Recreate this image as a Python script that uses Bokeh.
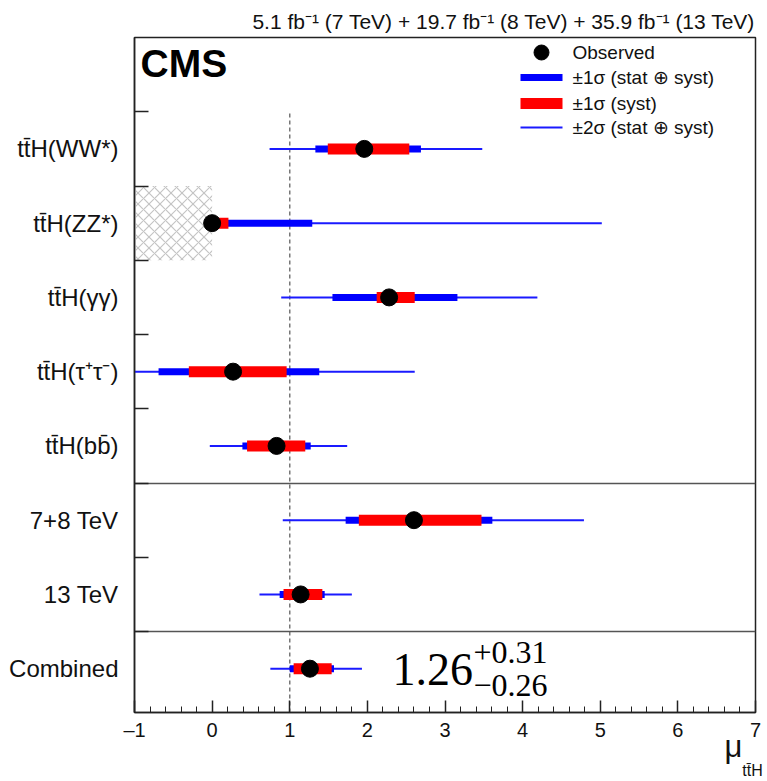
from bokeh.plotting import figure
from bokeh.models import (Range1d, FixedTicker, SingleIntervalTicker, Label,
                          ColumnDataSource, LinearAxis)
from bokeh.embed import file_html
from bokeh.resources import INLINE

# ---- data: signal strength per channel (top to bottom) ----
categories = ["tt\u0304H(WW*)", "tt\u0304H(ZZ*)", "tt\u0304H(\u03b3\u03b3)",
              "tt\u0304H(\u03c4\u207a\u03c4\u207b)", "tt\u0304H(bb\u0304)",
              "7+8 TeV", "13 TeV", "Combined"]
observed = [1.96, 0.00, 2.28, 0.27, 0.83, 2.60, 1.14, 1.26]
# +-1 sigma (stat + syst)
tot_lo = [1.33, 0.00, 1.55, -0.69, 0.39, 1.72, 0.87, 1.00]
tot_hi = [2.69, 1.29, 3.16, 1.38, 1.27, 3.61, 1.45, 1.57]
# +-1 sigma (syst only)
syst_lo = [1.49, 0.00, 2.12, -0.30, 0.45, 1.89, 0.92, 1.05]
syst_hi = [2.54, 0.21, 2.61, 0.96, 1.20, 3.47, 1.42, 1.54]
# +-2 sigma (stat + syst)
two_lo = [0.74, 0.00, 0.89, -1.50, -0.03, 0.91, 0.61, 0.75]
two_hi = [3.48, 5.02, 4.19, 2.61, 1.74, 4.79, 1.80, 1.93]

x_ticks = [-1, 0, 1, 2, 3, 4, 5, 6, 7]
separators = [1, 3]          # between groups
sm_value = 1.0               # Standard Model expectation
excluded = (-1.0, 0.0)       # unphysical region for ZZ*

n = len(categories)
rows = [n - 0.5 - i for i in range(n)]

# ---- geometry ----
W, H = 767, 781
BL, BR, BT, BB = 134, 12, 37, 69
X0, X1 = -1.0, 7.0
Y0, Y1 = -0.09, 9.0
FW, FH = W - BL - BR, H - BT - BB


def dx(px):
    return X0 + (px - BL) / FW * (X1 - X0)


def dy(py):
    return Y0 + (H - BB - py) / FH * (Y1 - Y0)


FONT = "Liberation Sans"
SERIF = "Liberation Serif"
INK = "#111111"

p = figure(width=W, height=H, output_backend="svg", toolbar_location=None,
           x_range=Range1d(X0, X1), y_range=Range1d(Y0, Y1),
           min_border_left=BL, min_border_right=BR, min_border_top=BT,
           min_border_bottom=BB)
p.grid.visible = False
p.outline_line_color = "#222222"
p.outline_line_width = 1.5

# luminosity / energy header
p.title.text = "5.1 fb\u207b\u00b9 (7 TeV) + 19.7 fb\u207b\u00b9 (8 TeV) + 35.9 fb\u207b\u00b9 (13 TeV)"
p.title.align = "right"
p.title.text_font = FONT
p.title.text_font_size = "21px"
p.title.text_font_style = "normal"
p.title.text_color = INK
p.title.standoff = 9

# x axis
xax = p.xaxis[0]
xax.ticker = SingleIntervalTicker(interval=1, num_minor_ticks=5)
xax.major_tick_in = 12
xax.major_tick_out = 0
xax.minor_tick_in = 6
xax.minor_tick_out = 0
xax.axis_line_width = 1.5
xax.axis_line_color = "#222222"
xax.major_tick_line_color = "#222222"
xax.minor_tick_line_color = "#222222"
xax.major_tick_line_width = 1.5
xax.major_label_text_font = FONT
xax.major_label_text_font_size = "20px"
xax.major_label_text_color = INK
xax.major_label_standoff = 6
xax.major_label_overrides = {t: ("\u20131" if t < 0 else str(t)) for t in x_ticks}


def title_axis(text, px, size, standoff):
    """Bare axis below the frame carrying one piece of the axis title."""
    pos = dx(px)
    ax = LinearAxis(ticker=FixedTicker(ticks=[pos]), axis_line_alpha=0,
                    major_tick_line_alpha=0, minor_tick_line_alpha=0,
                    major_tick_in=0, major_tick_out=0,
                    minor_tick_in=0, minor_tick_out=0,
                    major_label_overrides={pos: text},
                    major_label_text_font=FONT,
                    major_label_text_font_size=size,
                    major_label_text_color=INK,
                    major_label_standoff=standoff)
    p.add_layout(ax, "below")
    return ax


title_axis("\u03bc", 733, "31px", -15)
title_axis("tt\u0304H", 752, "16px", -5)

# y axis: category labels at row centres, tick marks at row edges
p.yaxis.ticker = FixedTicker(ticks=rows, minor_ticks=list(range(1, n + 1)))
p.yaxis.major_label_overrides = {r: c for r, c in zip(rows, categories)}
p.yaxis.major_tick_in = 0
p.yaxis.major_tick_out = 0
p.yaxis.minor_tick_in = 14
p.yaxis.minor_tick_out = 0
p.yaxis.minor_tick_line_width = 1.5
p.yaxis.minor_tick_line_color = "#222222"
p.yaxis.axis_line_width = 1.5
p.yaxis.axis_line_color = "#222222"
p.yaxis.major_label_text_font = FONT
p.yaxis.major_label_text_font_size = "24px"
p.yaxis.major_label_text_color = INK
p.yaxis.major_label_standoff = 16

# excluded region
p.quad(left=[excluded[0]], right=[excluded[1]], bottom=[rows[1] - 0.5], top=[rows[1] + 0.5],
       fill_alpha=0, line_alpha=0, hatch_pattern="x", hatch_color="#c4c4c4",
       hatch_scale=11, hatch_weight=1.2)

# SM line (up to the top channel) and group separators
p.segment(x0=[sm_value], x1=[sm_value], y0=[Y0], y1=[rows[0] + 0.5],
          line_color="#777777", line_dash="4 3", line_width=1.5)
p.hspan(y=separators, line_color="#555555", line_width=1.5)

src = ColumnDataSource(dict(y=rows, obs=observed, tlo=tot_lo, thi=tot_hi,
                            slo=syst_lo, shi=syst_hi, wlo=two_lo, whi=two_hi))

p.segment(x0="wlo", x1="whi", y0="y", y1="y", source=src, line_color="#1a1aff", line_width=2)
p.segment(x0="tlo", x1="thi", y0="y", y1="y", source=src, line_color="#0000ff", line_width=7)
p.segment(x0="slo", x1="shi", y0="y", y1="y", source=src, line_color="#ff0000", line_width=11)
p.scatter(x="obs", y="y", source=src, size=17, fill_color="black", line_color="black")

# ---- legend ----
lx0, lx1, ltx = dx(520), dx(562), dx(572)
ly = [dy(52), dy(77), dy(103), dy(127)]
p.scatter(x=[dx(541)], y=[ly[0]], size=15, fill_color="black", line_color="black")
p.segment(x0=[lx0], x1=[lx1], y0=[ly[1]], y1=[ly[1]], line_color="#0000ff", line_width=7)
p.segment(x0=[lx0], x1=[lx1], y0=[ly[2]], y1=[ly[2]], line_color="#ff0000", line_width=11)
p.segment(x0=[lx0], x1=[lx1], y0=[ly[3]], y1=[ly[3]], line_color="#1a1aff", line_width=2)
legend_texts = ["Observed", "\u00b11\u03c3 (stat \u2295 syst)", "\u00b11\u03c3 (syst)",
                "\u00b12\u03c3 (stat \u2295 syst)"]
for t, yy in zip(legend_texts, ly):
    p.add_layout(Label(x=ltx, y=yy, text=t, text_font=FONT, text_font_size="19px",
                       text_baseline="middle", text_color=INK))

# ---- texts inside the frame ----
p.add_layout(Label(x=dx(140), y=dy(84), text="CMS", text_font=FONT, text_font_size="39px",
                   text_font_style="bold", text_color="black"))

# combined result
c_obs = observed[-1]
c_up = tot_hi[-1] - c_obs
c_dn = c_obs - tot_lo[-1]
p.add_layout(Label(x=dx(392), y=dy(684), text=f"{c_obs:.2f}", text_font=SERIF,
                   text_font_size="46px", text_color="black"))
p.add_layout(Label(x=dx(473), y=dy(662), text=f"+{c_up:.2f}", text_font=SERIF,
                   text_font_size="32px", text_color="black"))
p.add_layout(Label(x=dx(473), y=dy(695), text=f"\u2212{c_dn:.2f}", text_font=SERIF,
                   text_font_size="32px", text_color="black"))

open("out.html", "w").write(file_html(p, INLINE))
